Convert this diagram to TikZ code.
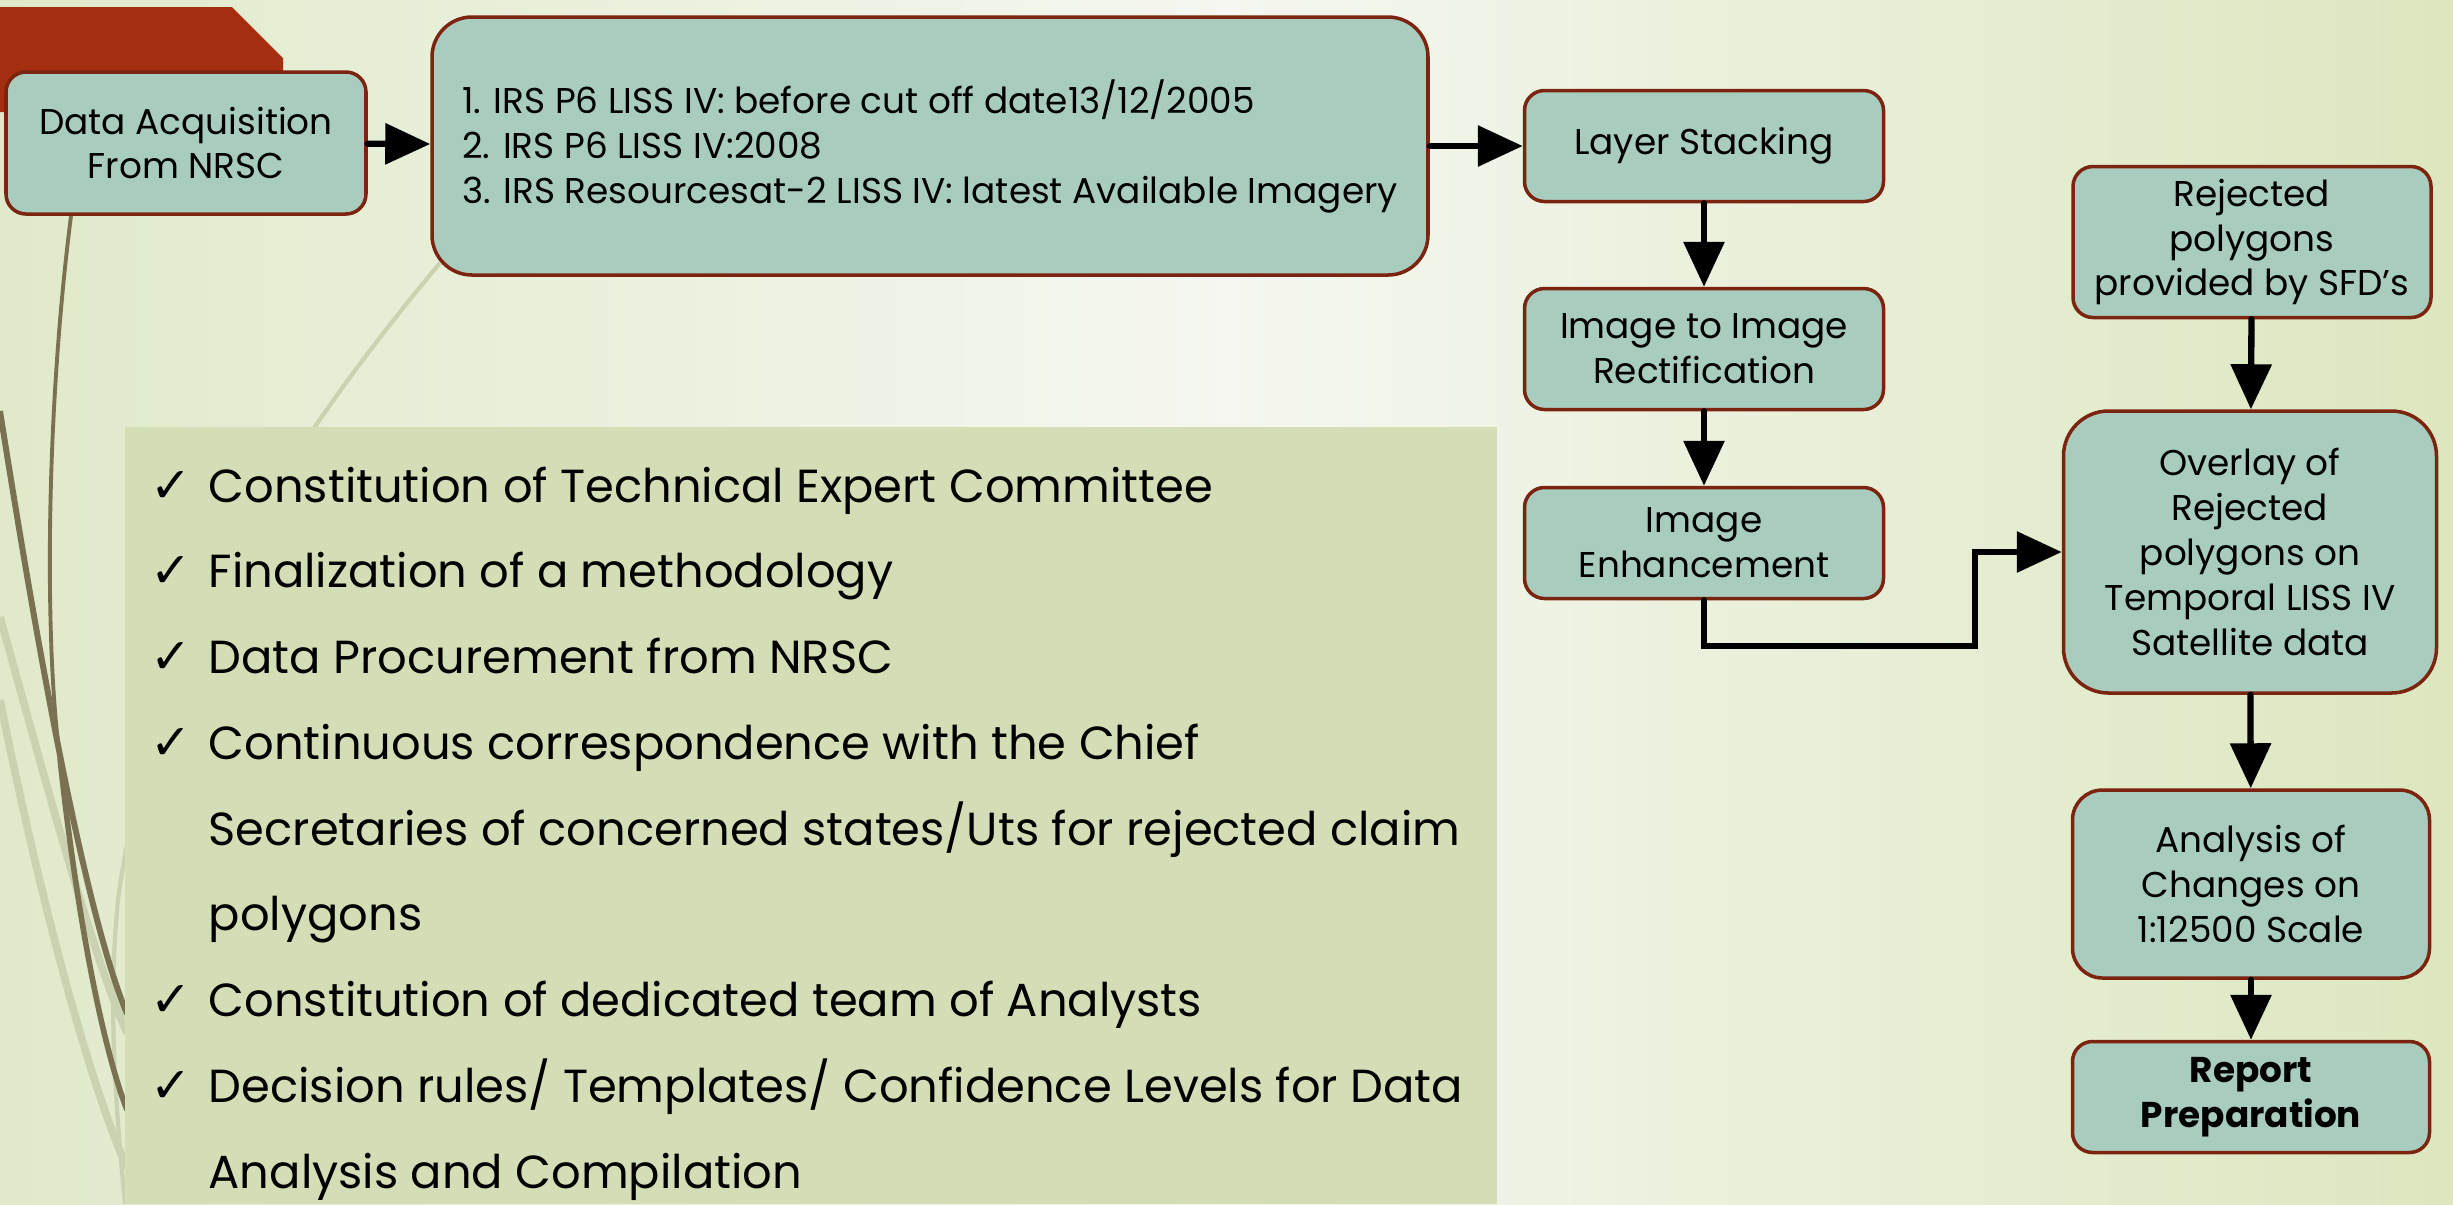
\documentclass[tikz,border=0pt]{standalone}
\usepackage{fontspec}
\setmainfont{Poppins}
\newfontfamily\symfont{DejaVu Sans}
\usetikzlibrary{arrows.meta,positioning,calc}

\definecolor{bgleft}{HTML}{E0EACA}
\definecolor{bgmid}{HTML}{F5F7F0}
\definecolor{bgright}{HTML}{DCE7BF}
\definecolor{banner}{HTML}{A32E10}
\definecolor{boxfill}{HTML}{A8CDBF}
\definecolor{boxline}{HTML}{7B2410}
\definecolor{listfill}{HTML}{D4DEB6}
\definecolor{swirl}{HTML}{7A7152}
\definecolor{paleswirl}{HTML}{CBD2B2}

\newcommand{\chk}{\makebox[5.8mm][l]{\symfont\fontsize{14}{14}\selectfont ✓}}

\tikzset{
  stepbox/.style={draw=boxline, line width=1pt, fill=boxfill, rounded corners=2mm,
    align=center, inner sep=2pt, font=\fontsize{10.2}{12.8}\selectfont},
  arr/.style={line width=1.8pt, line cap=round, -{Triangle[length=4.5mm,width=4mm]}}
}

\begin{document}
\begin{tikzpicture}[x=0.1mm,y=-0.1mm]
	\useasboundingbox (0,0) rectangle (2453,1204);
	% background
	\shade[left color=bgleft, right color=bgright, middle color=bgmid] (0,0) rectangle (2453,1204);
	\fill[banner] (0,7) -- (232,7) -- (283,58) -- (283,112) -- (0,112) -- cycle;
	% swirls on the left
	\draw[paleswirl, line width=1.2pt] (440,263) .. controls (300,430) and (150,650) .. (118,900) .. controls (108,1000) and (115,1100) .. (125,1204);
	\draw[paleswirl, line width=2.2pt] (0,617) .. controls (40,760) and (90,950) .. (127,1033);
	\draw[paleswirl, line width=2.2pt] (0,700) .. controls (30,850) and (80,1060) .. (127,1168);
	\draw[swirl, line width=1.1pt] (71,216) .. controls (45,420) and (45,650) .. (60,758);
	\draw[swirl, line width=1.6pt] (60,758) .. controls (75,900) and (100,1040) .. (127,1110);
	\draw[swirl, line width=1.7pt] (0,411) .. controls (30,600) and (80,900) .. (127,1014);
	% list panel
	\fill[listfill] (125,427) rectangle (2453-956,1204);
	\node[anchor=north west, align=left, inner sep=0pt, font=\fontsize{13.2}{24.4}\selectfont] (list) at (150,466) {%
		\chk Constitution of Technical Expert Committee\\
		\chk Finalization of a methodology\\
		\chk Data Procurement from NRSC\\
		\chk Continuous correspondence with the Chief\\
		\hspace*{5.8mm}Secretaries of concerned states/Uts for rejected claim\\
		\hspace*{5.8mm}polygons\\
		\chk Constitution of dedicated team of Analysts\\
		\chk Decision rules/ Templates/ Confidence Levels for Data\\
		\hspace*{5.8mm}Analysis and Compilation};
	% flow boxes
	\node[stepbox, minimum width=36mm, minimum height=14.2mm] (acq) at (186,143) {Data Acquisition\\From NRSC};
	\node[stepbox, rounded corners=4mm, minimum width=99.6mm, minimum height=25.8mm, align=left] (sats) at (930,146) {%
		1. IRS P6 LISS IV: before cut off date13/12/2005\\
		2. IRS P6 LISS IV:2008\\
		3. IRS Resourcesat-2 LISS IV: latest Available Imagery};
	\node[stepbox, minimum width=35.9mm, minimum height=11.1mm] (stack) at (1704,146) {Layer Stacking};
	\node[stepbox, minimum width=35.9mm, minimum height=12.1mm] (rectif) at (1704,349) {Image to Image\\Rectification};
	\node[stepbox, minimum width=35.9mm, minimum height=11.1mm] (enh) at (1704,543) {Image\\Enhancement};
	\node[stepbox, minimum width=35.8mm, minimum height=15.1mm] (rej) at (2252,242) {Rejected\\polygons\\provided by SFD’s};
	\node[stepbox, rounded corners=4.5mm, minimum width=37.3mm, minimum height=28.2mm] (over) at (2250,552) {Overlay of\\Rejected\\polygons on\\Temporal LISS IV\\Satellite data};
	\node[stepbox, rounded corners=3mm, minimum width=35.7mm, minimum height=18.8mm] (anal) at (2251,884) {Analysis of\\Changes on\\1:12500 Scale};
	\node[stepbox, minimum width=35.7mm, minimum height=11.1mm, font=\fontsize{10.2}{12.8}\selectfont\bfseries] (rep) at (2251,1097) {Report\\Preparation};
	% connectors
	\coordinate (bend) at (1975,646);
	\draw[arr] (acq) -- (sats);
	\draw[arr] (sats) -- (stack);
	\draw[arr] (stack) -- (rectif);
	\draw[arr] (rectif) -- (enh);
	\draw[arr] (enh.south) |- (bend) |- (over.west);
	\draw[arr] (rej) -- (over);
	\draw[arr] (over) -- (anal);
	\draw[arr] (anal) -- (rep);
\end{tikzpicture}
\end{document}
